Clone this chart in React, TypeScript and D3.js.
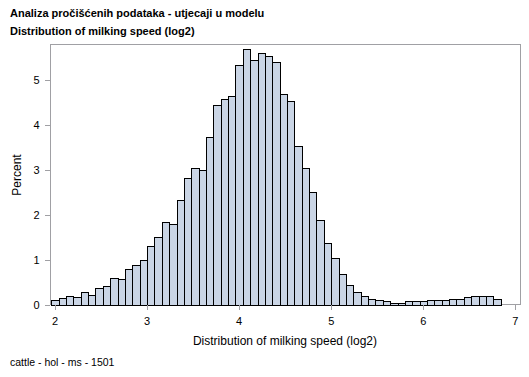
import React from "react";
import * as d3 from "d3";

const titleLines: string[] = [
  "Analiza pročišćenih podataka - utjecaji u modelu",
  "Distribution of milking speed (log2)",
];
const footnote = "cattle - hol - ms - 1501";
const xLabel = "Distribution of milking speed (log2)";
const yLabel = "Percent";

const binStart = 1.96;
const binWidth = 0.08;
const percents: number[] = [
  0.09, 0.14, 0.2, 0.16, 0.27, 0.22, 0.36, 0.42, 0.58, 0.56,
  0.78, 0.87, 0.98, 1.29, 1.51, 1.84, 1.78, 2.33, 2.81, 3.04,
  2.98, 3.73, 4.44, 4.56, 4.64, 5.33, 5.67, 5.44, 5.6, 5.53,
  5.4, 4.69, 4.52, 3.53, 3.04, 2.51, 1.87, 1.36, 1.04, 0.67,
  0.44, 0.27, 0.18, 0.12, 0.1, 0.07, 0.04, 0.04, 0.07, 0.07,
  0.07, 0.11, 0.09, 0.11, 0.13, 0.13, 0.16, 0.18, 0.18, 0.2,
  0.12,
];
const xTicks: number[] = [2, 3, 4, 5, 6, 7];
const yTicks: number[] = [0, 1, 2, 3, 4, 5];

const W = 529;
const H = 377;
const font = "Arial, 'Liberation Sans', sans-serif";
const frameColor = "#A0A0A4";

export default function App() {
  const x = d3.scaleLinear().domain([1.946, 7.05]).range([50, 520]);
  const y = d3.scaleLinear().domain([0, 5.78]).range([304.5, 44.5]);
  const bins = percents.map((v, i) => ({
    x0: binStart + i * binWidth,
    x1: binStart + (i + 1) * binWidth,
    v,
  }));

  return (
    <svg
      width={W}
      height={H}
      style={{ position: "absolute", left: 0, top: 0, background: "#fff" }}
      fontFamily={font}
    >
      <rect x={0} y={0} width={W} height={H} fill="#fff" />
      {titleLines.map((t, i) => (
        <text key={i} x={10} y={17 + i * 18} fontSize={11} fontWeight="bold" fill="#000">
          {t}
        </text>
      ))}
      {/* frame */}
      <rect
        x={50.5}
        y={44.5}
        width={470}
        height={260}
        fill="none"
        stroke={frameColor}
        strokeWidth={1}
      />
      {/* bars */}
      {bins.map((b, i) => (
        <rect
          key={i}
          x={Math.round(x(b.x0)) + 0.5}
          y={Math.round(y(b.v)) + 0.5}
          width={Math.round(x(b.x1)) - Math.round(x(b.x0))}
          height={Math.round(y(0)) - Math.round(y(b.v))}
          fill="#CAD5E5"
          stroke="#000"
          strokeWidth={1}
        />
      ))}
      {/* y axis ticks */}
      {yTicks.map((t) => (
        <g key={t}>
          <line
            x1={45}
            x2={50}
            y1={Math.round(y(t)) + 0.5}
            y2={Math.round(y(t)) + 0.5}
            stroke={frameColor}
          />
          <text x={39.5} y={y(t) + 4} fontSize={11} textAnchor="end" fill="#000">
            {t}
          </text>
        </g>
      ))}
      {/* x axis ticks */}
      {xTicks.map((t) => (
        <g key={t}>
          <line
            x1={Math.round(x(t)) + 0.5}
            x2={Math.round(x(t)) + 0.5}
            y1={305}
            y2={310}
            stroke={frameColor}
          />
          <text x={x(t)} y={325} fontSize={11} textAnchor="middle" fill="#000">
            {t}
          </text>
        </g>
      ))}
      <text x={285} y={345} fontSize={12} textAnchor="middle" fill="#000">
        {xLabel}
      </text>
      <text
        transform={`translate(21,175) rotate(-90)`}
        fontSize={12}
        textAnchor="middle"
        fill="#000"
      >
        {yLabel}
      </text>
      <text x={10} y={366} fontSize={10.5} fill="#000">
        {footnote}
      </text>
    </svg>
  );
}
